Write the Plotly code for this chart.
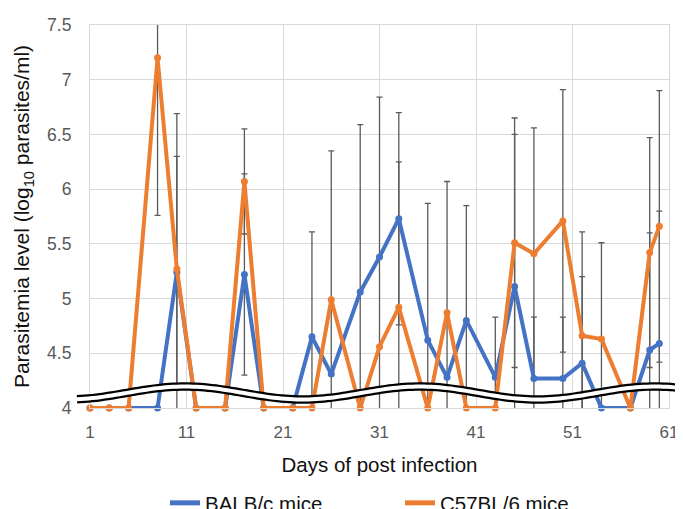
import numpy as np
import plotly.graph_objects as go

# ---- data ----
days = [1, 3, 5, 8, 10, 12, 15, 17, 19, 22, 24, 26, 29, 31, 33, 36, 38, 40, 43, 45, 47, 50, 52, 54, 57, 59, 60]
balbc = [4, 4, 4, 4, 5.24, 4, 4, 5.22, 4, 4, 4.65, 4.31, 5.06, 5.38, 5.73, 4.62, 4.28, 4.80, 4.28, 5.11, 4.27, 4.27, 4.41, 4.0, 4.0, 4.53, 4.59]
c57 = [4, 4, 4, 7.2, 5.27, 4, 4, 6.07, 4, 4, 4, 4.99, 4, 4.56, 4.92, 4, 4.87, 4, 4, 5.51, 5.41, 5.71, 4.66, 4.63, 4, 5.42, 5.66]
balbc_err = [None, None, None, None, 1.06, None, None, 0.92, None, None, 0.96, None, 1.53, 1.46, 0.97, 1.25, None, 1.05, 0.55, 1.39, 0.56, 0.56, 0.79, None, None, 1.07, 1.21]
c57_err = [None, None, None, 1.44, 1.42, None, None, 0.48, None, None, None, 1.36, None, None, 1.33, None, 1.2, None, None, 1.14, 1.15, 1.2, 0.95, 0.88, None, 1.05, 1.24]
series_names = ["BALB/c mice", "C57BL/6 mice"]
colors = ["#4472C4", "#ED7D31"]

# page has an 8px body margin; figure is sized/offset to compensate
OFF = 8
W, H = 683 - OFF, 509 - OFF
ML, MR, MT, MB = 90 - OFF, 14, 25 - OFF, 101
PW, PH = W - ML - MR, H - MT - MB

fig = go.Figure()
err_color = "#5a5a5a"
for ys, es in [(balbc, balbc_err), (c57, c57_err)]:
    fig.add_trace(go.Scatter(
        x=days, y=ys, mode="markers", showlegend=False, hoverinfo="skip",
        marker=dict(size=1, color="rgba(0,0,0,0)"),
        error_y=dict(type="data", array=es, symmetric=True, color=err_color, thickness=1.3, width=3),
        cliponaxis=True))
for ys, name, col in [(balbc, series_names[0], colors[0]), (c57, series_names[1], colors[1])]:
    fig.add_trace(go.Scatter(
        x=days, y=ys, mode="lines+markers", name=name, showlegend=False,
        line=dict(color=col, width=4), marker=dict(color=col, size=7),
        cliponaxis=False))
for name, col in zip(series_names, colors):
    fig.add_trace(go.Scatter(x=[None], y=[None], mode="lines", name=name,
                             line=dict(color=col, width=5)))

# ---- axis-break wave (decoration), in page pixels -> paper coords ----
px = np.linspace(77, 690, 160)
py = 393 - 6.5 * np.cos(2 * np.pi * (px - 185) / 235)
xp = (px - OFF - ML) / PW
yp = (H - MB - (py - OFF)) / PH
path = "M " + " L ".join(f"{a:.5f},{b:.5f}" for a, b in zip(xp, yp))
shapes = [
    dict(type="path", path=path, xref="paper", yref="paper", line=dict(color="black", width=8.5), layer="above"),
    dict(type="path", path=path, xref="paper", yref="paper", line=dict(color="white", width=4), layer="above"),
]

font = "Liberation Sans, Arial, sans-serif"
fig.update_layout(
    width=W, height=H, margin=dict(l=ML, r=MR, t=MT, b=MB, autoexpand=False),
    paper_bgcolor="white", plot_bgcolor="white",
    font=dict(family=font, color="#595959", size=17),
    shapes=shapes,
    showlegend=True,
    legend=dict(orientation="h", x=(165 - OFF - ML) / PW, xanchor="left", y=(408 - 503) / PH, yanchor="middle",
                font=dict(size=20.5, color="#111111"), traceorder="normal",
                entrywidth=190, entrywidthmode="pixels"),
    xaxis=dict(range=[1, 61], tick0=1, dtick=10, showgrid=True, gridcolor="#d9d9d9", gridwidth=1.2,
               showline=True, mirror=True, linecolor="#d9d9d9", linewidth=1.2, zeroline=False,
               automargin=False,
               ticks="", ticklabelstandoff=8, tickfont=dict(size=17, color="#595959"),
               title=dict(text="Days of post infection", font=dict(size=20.5, color="#111111"), standoff=17)),
    yaxis=dict(range=[4, 7.5], dtick=0.5, tick0=4, showgrid=True, gridcolor="#d9d9d9", gridwidth=1.2,
               showline=True, mirror=True, linecolor="#d9d9d9", linewidth=1.2, zeroline=False,
               automargin=False,
               ticks="", ticklabelstandoff=14, tickfont=dict(size=17.5, color="#595959"),
               title=dict(text="Parasitemia level (log<sub>10</sub> parasites/ml)",
                          font=dict(size=21, color="#111111"), standoff=11)),
)
fig.write_html("out.html")
